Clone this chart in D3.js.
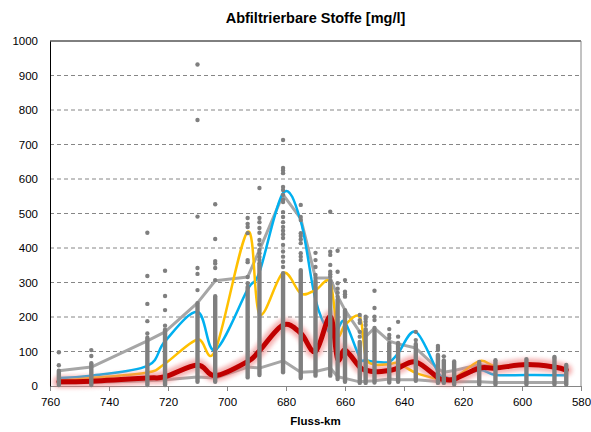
<!DOCTYPE html>
<html>
<head>
<meta charset="utf-8">
<script src="https://cdn.jsdelivr.net/npm/d3@7"></script>
<style>
  body { margin: 0; background: #fff; }
  svg { display: block; font-family: "Liberation Sans", Arial, sans-serif; }
</style>
</head>
<body>
<svg id="chart"></svg>
<script>
// stations along the river (Fluss-km)
var km = [757, 746, 727, 721, 710, 704, 693, 689, 681, 675, 670, 665, 662.5, 660, 655, 653, 650, 645, 642, 636, 628.5, 626.5, 623, 614.5, 609, 598.5, 589, 585];

// statistic lines per station
var upperGray = [44, 55, 131, 157, 241, 305, 316, 394, 555, 485, 313, 313, 260, 220, 157, 143, 168, 130, 122, 110, 50, 40, 45, 62, 55, 62, 58, 45];
var lowerGray = [8, 10, 15, 18, 26, 23, 55, 52, 73, 40, 42, 52, 27, 22, 12, 14, 15, 20, 18, 18, 13, 12, 12, 12, 10, 10, 10, 10];
var blue = [23, 30, 58, 130, 215, 104, 280, 330, 559, 478, 250, 150, 165, 185, 82, 75, 70, 70, 95, 157, 40, 28, 22, 46, 32, 32, 31, 31];
var orange = [15, 23, 39, 65, 135, 103, 447, 208, 328, 268, 278, 300, 150, 177, 200, 85, 62, 63, 66, 38, 20, 18, 22, 72, 58, 60, 55, 45];
var red = [12, 14, 23, 27, 61, 30, 71, 102, 177, 153, 100, 201, 78, 104, 55, 46, 41, 45, 52, 70, 24, 20, 20, 52, 52, 62, 55, 46];

// single measurements: dense part of each column + scattered values above it
var colLo = [3, 3, 3, 3, 12, 12, 25, 32, 40, 23, 30, 30, 20, 12, 9, 9, 10, 10, 12, 15, 9, 9, 4, 4, 4, 4, 4, 4];
var colHi = [44, 66, 140, 163, 240, 260, 287, 356, 327, 336, 305, 305, 250, 220, 128, 165, 160, 119, 125, 122, 90, 74, 71, 70, 75, 78, 81, 61];
var outliers = [
  [60, 98],
  [87, 104],
  [152, 188, 238, 319, 444],
  [175, 220, 261, 334],
  [278, 325, 342, 491, 771, 932],
  [307, 342, 355, 362, 426, 527],
  [298, 316, 359, 365, 443, 461, 470, 487],
  [365, 374, 385, 394, 410, 423, 444, 458, 475, 487, 574],
  [345, 360, 375, 390, 409, 429, 440, 450, 461, 475, 490, 504, 533, 540, 554, 568, 577, 617, 625, 632, 713],
  [365, 375, 385, 414, 425, 435, 443, 481, 490, 525],
  [313, 322, 345, 365, 386],
  [317, 324, 331, 351, 380, 389, 505],
  [259, 270, 282, 298, 331, 392],
  [259, 266, 273, 307],
  [143, 157, 183, 191, 206],
  [177, 186, 194, 201],
  [168, 191, 201, 226, 276],
  [124, 139, 148, 165],
  [143, 186],
  [133, 157],
  [104, 110, 116],
  [86],
  [], [], [], [],
  [84],
  []
];

var xTicks = [760, 740, 720, 700, 680, 660, 640, 620, 600, 580];
var yTicks = [0, 100, 200, 300, 400, 500, 600, 700, 800, 900, 1000];

var width = 591, height = 432;
var margin = {"top": 41, "right": 10, "bottom": 46, "left": 50};

var svg = d3.select("#chart")
  .attr("width", width)
  .attr("height", height);

var x = d3.scaleLinear().domain([760, 580]).range([margin.left, width - margin.right]);
var y = d3.scaleLinear().domain([0, 1000]).range([height - margin.bottom, margin.top]);

var defs = svg.append("defs");
defs.append("filter")
  .attr("id", "glow")
  .attr("x", "-10%").attr("y", "-50%")
  .attr("width", "120%").attr("height", "200%")
  .append("feGaussianBlur")
  .attr("stdDeviation", 2.2);

// dashed gridlines
svg.append("g")
  .selectAll("line")
  .data(yTicks.filter(function(d){ return d > 0 && d < 1000; }))
  .enter().append("line")
  .attr("x1", x(760)).attr("x2", x(580))
  .attr("y1", function(d){ return y(d); })
  .attr("y2", function(d){ return y(d); })
  .attr("stroke", "#868686")
  .attr("stroke-width", 1)
  .attr("stroke-dasharray", "4,3");

// frame
svg.append("line")
  .attr("x1", x(760)).attr("x2", x(580))
  .attr("y1", y(1000)).attr("y2", y(1000))
  .attr("stroke", "#000");
svg.append("line")
  .attr("x1", x(580)).attr("x2", x(580))
  .attr("y1", y(1000)).attr("y2", y(0))
  .attr("stroke", "#868686");

// x axis
var xAxis = svg.append("g")
  .attr("transform", "translate(0," + y(0) + ")")
  .call(d3.axisBottom(x).tickValues(xTicks).tickSize(5).tickPadding(7).tickFormat(d3.format("d")));
xAxis.select(".domain").attr("stroke", "#868686");
xAxis.selectAll(".tick line").attr("stroke", "#868686");
xAxis.selectAll("text").attr("font-size", "11.5px").attr("fill", "#000");

// y axis
var yAxis = svg.append("g")
  .attr("transform", "translate(" + x(760) + ",0)")
  .call(d3.axisLeft(y).tickValues(yTicks).tickSize(0).tickPadding(12).tickFormat(d3.format("d")));
yAxis.select(".domain").attr("stroke", "#000");
yAxis.selectAll("text").attr("font-size", "11.5px").attr("fill", "#000");

var stations = km.map(function(k, i){ return i; });

function drawLine(values, color, w, curve){
  var line = d3.line()
    .x(function(i){ return x(km[i]); })
    .y(function(i){ return y(values[i]); })
    .curve(curve);
  return svg.append("path")
    .datum(stations)
    .attr("fill", "none")
    .attr("stroke", color)
    .attr("stroke-width", w)
    .attr("stroke-linejoin", "round")
    .attr("stroke-linecap", "round")
    .attr("d", line);
}

var smooth = d3.curveCardinal.tension(0);

drawLine(lowerGray, "#a6a6a6", 3, d3.curveLinear);
drawLine(upperGray, "#a6a6a6", 3, d3.curveLinear);
drawLine(blue, "#00b0f0", 2.5, smooth);
drawLine(orange, "#ffc000", 2.5, smooth);
// red line with a soft pink halo
drawLine(red, "#ee7c7c", 12, smooth).attr("opacity", 0.6).attr("filter", "url(#glow)");
drawLine(red, "#c00000", 5, smooth);

// measurement columns and single points
svg.append("g")
  .selectAll("line")
  .data(stations)
  .enter().append("line")
  .attr("x1", function(i){ return x(km[i]); })
  .attr("x2", function(i){ return x(km[i]); })
  .attr("y1", function(i){ return y(colLo[i]); })
  .attr("y2", function(i){ return y(colHi[i]); })
  .attr("stroke", "#7f7f7f")
  .attr("stroke-width", 4.4)
  .attr("stroke-linecap", "round");

var pts = [];
outliers.forEach(function(list, i){
  list.forEach(function(v){ pts.push({"km": km[i], "v": v}); });
});
svg.append("g")
  .selectAll("circle")
  .data(pts)
  .enter().append("circle")
  .attr("cx", function(d){ return x(d.km); })
  .attr("cy", function(d){ return y(d.v); })
  .attr("r", 2.2)
  .attr("fill", "#7f7f7f");

// titles
svg.append("text")
  .attr("x", (x(760) + x(580)) / 2)
  .attr("y", 23)
  .attr("text-anchor", "middle")
  .attr("font-size", "14.5px")
  .attr("font-weight", "bold")
  .text("Abfiltrierbare Stoffe [mg/l]");

svg.append("text")
  .attr("x", (x(760) + x(580)) / 2)
  .attr("y", 425)
  .attr("text-anchor", "middle")
  .attr("font-size", "11.5px")
  .attr("font-weight", "bold")
  .text("Fluss-km");
</script>
</body>
</html>
